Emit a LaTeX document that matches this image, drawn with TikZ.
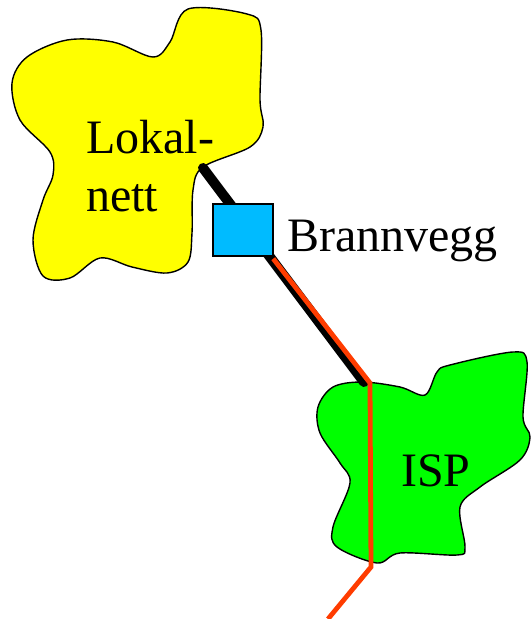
\documentclass[tikz,border=0pt]{standalone}
\usepackage{fontspec}
\setmainfont{Liberation Serif}
\usepackage{tikz}
\usetikzlibrary{positioning}
\definecolor{lanyellow}{RGB}{255,255,0}
\definecolor{ispgreen}{RGB}{0,255,0}
\definecolor{wallblue}{RGB}{0,187,255}
\definecolor{trafficred}{RGB}{255,60,0}
\tikzset{
  cloud/.style={draw=black, line width=1.4pt, line join=round},
  label/.style={font=\fontsize{48}{50}\selectfont, align=left, inner sep=0pt},
  wallbox/.style={draw=black, line width=1.4pt, fill=wallblue, minimum width=60pt, minimum height=52pt, inner sep=0pt},
  cable/.style={line width=10pt, line cap=round, black},
  route/.style={line width=4.8pt, trafficred, line join=miter},
}

\begin{document}
\begin{tikzpicture}[x=1pt, y=-1pt]
\useasboundingbox (0,0) rectangle (531,619);

% ---- Clouds ----
\draw[cloud, fill=lanyellow] plot[smooth cycle, tension=0.55] coordinates {
  (188,9) (247,14) (261,30) (260,100) (263,127) (250,147) (203,167)
  (193,190) (192,233) (188,262) (167,273) (132,267) (100,258) (70,278)
  (43,276) (33,240) (43,200) (53,175) (50,152) (20,120) (12,83) (27,57)
  (67,40) (113,42) (153,57) (170,42)};
\draw[cloud, fill=ispgreen] plot[smooth cycle, tension=0.55] coordinates {
  (362,382) (400,387) (425,395) (437,372) (450,365) (513,352) (527,362)
  (523,417) (530,437) (520,460) (480,487) (460,507) (465,547) (457,555)
  (400,553) (377,563) (337,547) (333,527) (350,483) (340,463) (320,433)
  (318,407) (333,387)};

% ---- Labels ----
\node[label, anchor=base west] (lan) at (86,211) {Lokal-\\[8pt]nett};
\node[label, anchor=base west] (isp) at (401,486) {ISP};

% ---- Link end points ----
\coordinate (lanport) at (203,168);
\coordinate (ispport) at (364,382);
\coordinate (redtop) at (370,383);
\coordinate (redmid) at (371,567);
\coordinate (redout) at (328,619);

% ---- Cable, firewall, route ----
\draw[cable] (lanport) -- (ispport);
\node[wallbox] (wall) at (243,230) {};
\node[label, anchor=base west] (wallname) at (287,251) {Brannvegg};
\draw[route] ([xshift=-0.5pt,yshift=-2pt]wall.south east) -- (redtop) -- (redmid) -- (redout);
\end{tikzpicture}
\end{document}
